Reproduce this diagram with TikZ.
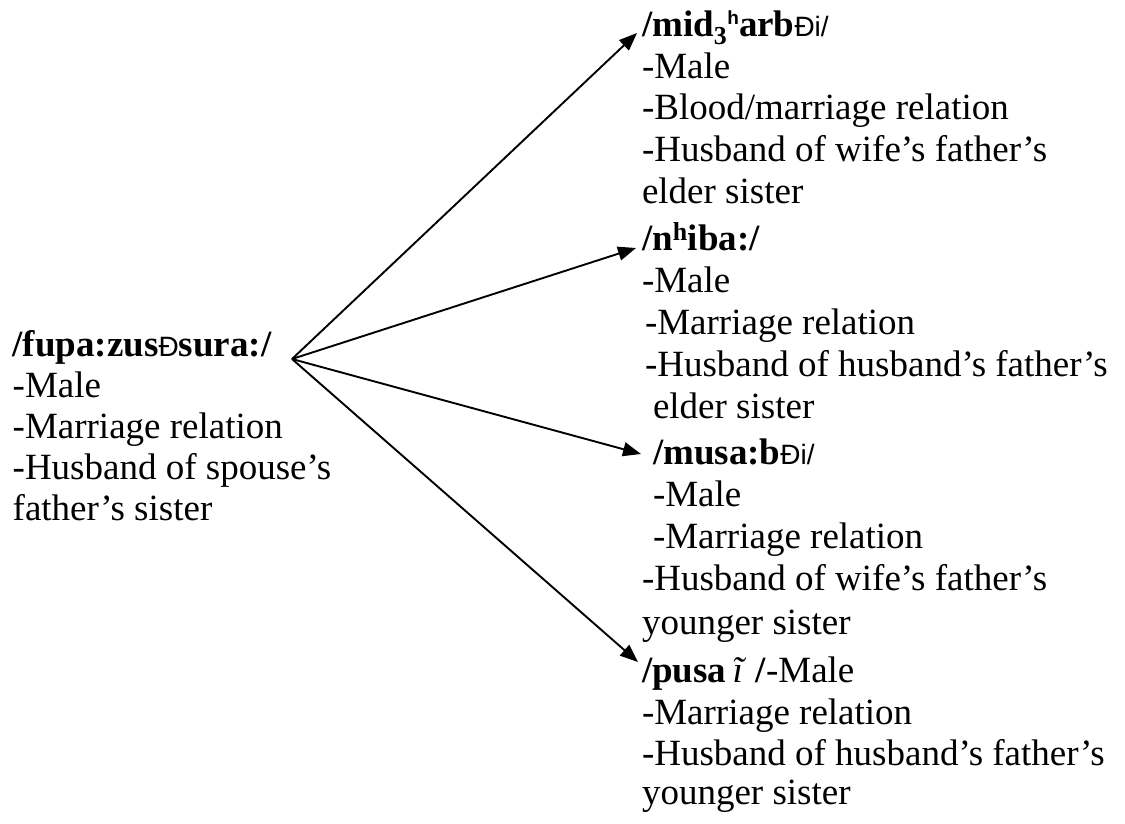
\documentclass[tikz,border=0pt]{standalone}
\usepackage{fontspec}
\setmainfont{Liberation Serif}
\newfontfamily\ethfont{Liberation Sans}
\usetikzlibrary{arrows.meta}

% small sans glyphs used inside the bold transcriptions
\newcommand{\ethpart}[1]{{\ethfont\mdseries\fontsize{28}{28}\selectfont #1}}
\newcommand{\smallh}{\raisebox{12pt}{\ethfont\bfseries\fontsize{19}{19}\selectfont h}}

\tikzset{
  line/.style={anchor=base west, inner sep=0pt, outer sep=0pt,
               font=\fontsize{37}{42}\selectfont},
  head/.style={line, font=\fontsize{37}{42}\selectfont\bfseries},
  link/.style={line width=1.9pt, -{Triangle[length=18pt,width=14pt]}}
}

\begin{document}
\begin{tikzpicture}[x=1pt,y=-1pt]
\useasboundingbox (0,0) rectangle (1125,823);

% source term
\node[head] (L0) at (12.7,356) {/fupa:zus\ethpart{Ð}sura:/};
\node[line] (L1) at (12.7,397) {-Male};
\node[line] (L2) at (12.7,438) {-Marriage relation};
\node[line] (L3) at (12.7,479) {-Husband of spouse’s};
\node[line] (L4) at (12.7,520) {father’s sister};

% first target
\node[head] (A0) at (642,36) {/mid\textsubscript{3}\smallh arb\ethpart{Ði/}};
\node[line] (A1) at (642,78) {-Male};
\node[line] (A2) at (642,119) {-Blood/marriage relation};
\node[line] (A3) at (642,161) {-Husband of wife’s father’s};
\node[line] (A4) at (642,203) {elder sister};

% second target
\node[head] (B0) at (642,250) {/n\textsuperscript{h}iba:/};
\node[line] (B1) at (642,292) {-Male};
\node[line] (B2) at (645,334) {-Marriage relation};
\node[line] (B3) at (645,376) {-Husband of husband’s father’s};
\node[line] (B4) at (653,418) {elder sister};

% third target
\node[head] (C0) at (653,464) {/musa:b\ethpart{Ði/}};
\node[line] (C1) at (653,506) {-Male};
\node[line] (C2) at (653,548) {-Marriage relation};
\node[line] (C3) at (642,590) {-Husband of wife’s father’s};
\node[line] (C4) at (642,634) {younger sister};

% fourth target
\node[line] (D0) at (642,682) {\textbf{/pusa}\,\textit{ĩ}\ \textbf{/}-Male};
\node[line] (D1) at (642,724) {-Marriage relation};
\node[line] (D2) at (642,765) {-Husband of husband’s father’s};
\node[line] (D3) at (642,804) {younger sister};

% fan of arrows
\coordinate (S) at (292,359);
\coordinate (T1) at (637,33);
\coordinate (T2) at (636,248);
\coordinate (T3) at (641,454);
\coordinate (T4) at (638,662);
\draw[link] (S) -- (T1);
\draw[link] (S) -- (T2);
\draw[link] (S) -- (T3);
\draw[link] (S) -- (T4);
\end{tikzpicture}
\end{document}
